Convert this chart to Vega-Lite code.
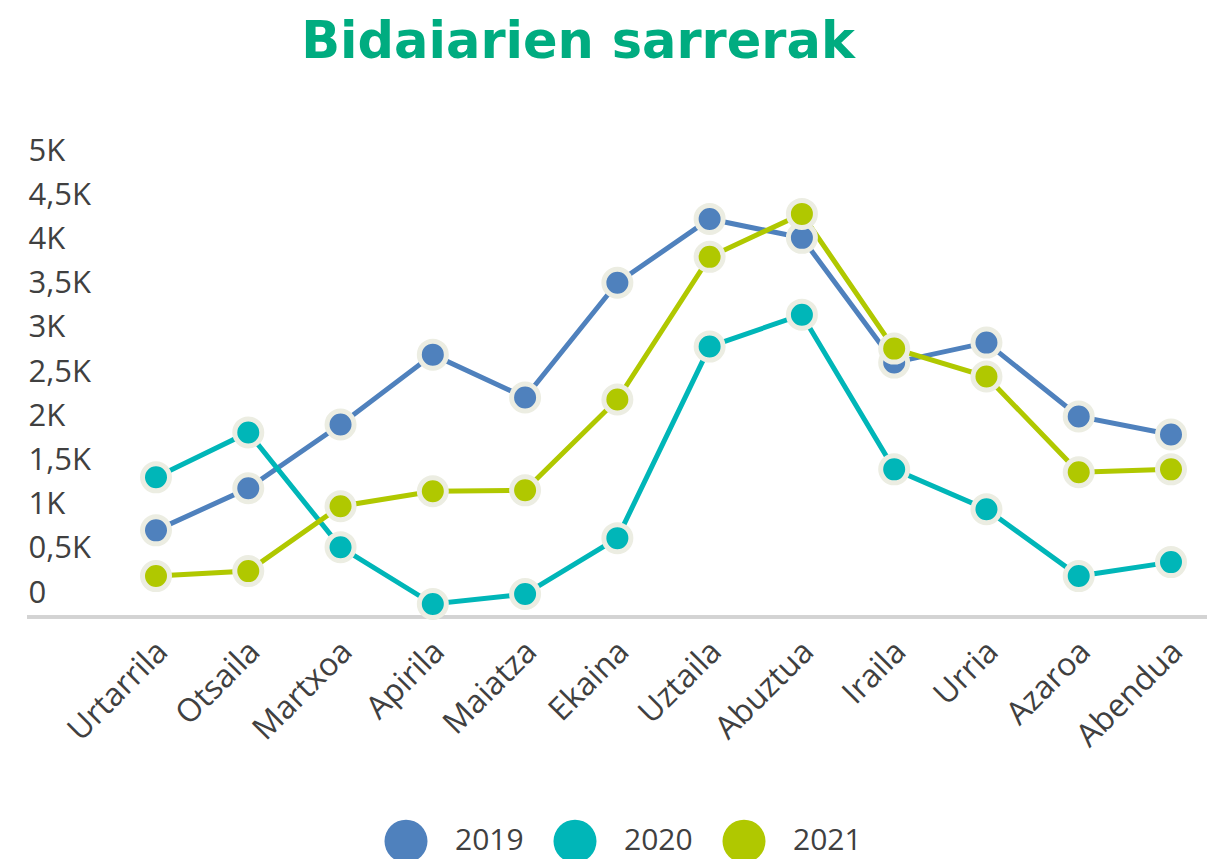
{
  "$schema": "https://vega.github.io/schema/vega-lite/v6.json",
  "width": 1180,
  "height": 442,
  "autosize": {"type": "none"},
  "padding": {"left": 27, "top": 175, "right": 0, "bottom": 242},
  "background": "white",
  "title": {
    "text": "Bidaiarien sarrerak",
    "font": "DejaVu Sans",
    "fontSize": 51,
    "fontWeight": "bold",
    "color": "#00AC80",
    "anchor": "middle",
    "dx": -39,
    "baseline": "alphabetic",
    "offset": 26
  },
  "config": {
    "view": {"stroke": null},
    "font": "Open Sans"
  },
  "data": {
    "values": [
      {"month": "Urtarrila", "year": "2019", "value": 980},
      {"month": "Otsaila", "year": "2019", "value": 1456},
      {"month": "Martxoa", "year": "2019", "value": 2178},
      {"month": "Apirila", "year": "2019", "value": 2968},
      {"month": "Maiatza", "year": "2019", "value": 2483},
      {"month": "Ekaina", "year": "2019", "value": 3781},
      {"month": "Uztaila", "year": "2019", "value": 4503},
      {"month": "Abuztua", "year": "2019", "value": 4289},
      {"month": "Iraila", "year": "2019", "value": 2878},
      {"month": "Urria", "year": "2019", "value": 3104},
      {"month": "Azaroa", "year": "2019", "value": 2269},
      {"month": "Abendua", "year": "2019", "value": 2065},
      {"month": "Urtarrila", "year": "2020", "value": 1580},
      {"month": "Otsaila", "year": "2020", "value": 2088},
      {"month": "Martxoa", "year": "2020", "value": 790},
      {"month": "Apirila", "year": "2020", "value": 147},
      {"month": "Maiatza", "year": "2020", "value": 260},
      {"month": "Ekaina", "year": "2020", "value": 892},
      {"month": "Uztaila", "year": "2020", "value": 3059},
      {"month": "Abuztua", "year": "2020", "value": 3420},
      {"month": "Iraila", "year": "2020", "value": 1670},
      {"month": "Urria", "year": "2020", "value": 1219},
      {"month": "Azaroa", "year": "2020", "value": 463},
      {"month": "Abendua", "year": "2020", "value": 621},
      {"month": "Urtarrila", "year": "2021", "value": 463},
      {"month": "Otsaila", "year": "2021", "value": 519},
      {"month": "Martxoa", "year": "2021", "value": 1253},
      {"month": "Apirila", "year": "2021", "value": 1422},
      {"month": "Maiatza", "year": "2021", "value": 1433},
      {"month": "Ekaina", "year": "2021", "value": 2460},
      {"month": "Uztaila", "year": "2021", "value": 4074},
      {"month": "Abuztua", "year": "2021", "value": 4560},
      {"month": "Iraila", "year": "2021", "value": 3036},
      {"month": "Urria", "year": "2021", "value": 2720},
      {"month": "Azaroa", "year": "2021", "value": 1637},
      {"month": "Abendua", "year": "2021", "value": 1670}
    ]
  },
  "layer": [
    {
      "mark": {"type": "rule", "color": "#D3D3D3", "strokeWidth": 3},
      "encoding": {"y": {"datum": 0, "type": "quantitative", "scale": {"domain": [0, 5000], "nice": false}}}
    },
    {
      "encoding": {
        "x": {
          "field": "month",
          "type": "ordinal",
          "sort": null,
          "scale": {"type": "point", "range": [129, 1144], "padding": 0},
          "axis": {
            "title": null,
            "labelAngle": -45,
            "labelAlign": "right",
            "labelBaseline": "middle",
            "labelPadding": 29,
            "labelOffset": 6,
            "labelFontSize": 32,
            "labelColor": "#404040",
            "labelFont": "Open Sans",
            "labelLimit": 300,
            "ticks": false,
            "grid": false,
            "domain": false
          }
        },
        "y": {
          "field": "value",
          "type": "quantitative",
          "scale": {"domain": [0, 5000], "nice": false},
          "axis": {
            "title": null,
            "values": [0, 500, 1000, 1500, 2000, 2500, 3000, 3500, 4000, 4500, 5000],
            "labelExpr": "datum.value == 0 ? '0' : replace(format(datum.value / 1000, '.1~f'), '.', ',') + 'K'",
            "labelAlign": "left",
            "labelBaseline": "middle",
            "labelPadding": -1,
            "labelOffset": -24,
            "labelFontSize": 31,
            "labelColor": "#404040",
            "labelFont": "Open Sans",
            "ticks": false,
            "grid": false,
            "domain": false
          }
        },
        "color": {
          "field": "year",
          "type": "nominal",
          "scale": {"domain": ["2019", "2020", "2021"], "range": ["#4F81BD", "#00B6B8", "#B0C800"]},
          "legend": {
            "title": null,
            "orient": "none",
            "direction": "horizontal",
            "legendX": 357,
            "legendY": 644,
            "padding": 0,
            "symbolType": "circle",
            "symbolSize": 1850,
            "symbolStrokeWidth": 0,
            "symbolOpacity": 1,
            "labelFontSize": 30,
            "labelColor": "#404040",
            "labelFont": "Open Sans",
            "labelOffset": 27,
            "columnPadding": 29
          }
        }
      },
      "layer": [
        {"mark": {"type": "line", "strokeWidth": 5}},
        {"mark": {"type": "point", "filled": true, "opacity": 1, "size": 729, "stroke": "#ECEDE2", "strokeWidth": 5, "strokeOpacity": 1}}
      ]
    }
  ]
}
